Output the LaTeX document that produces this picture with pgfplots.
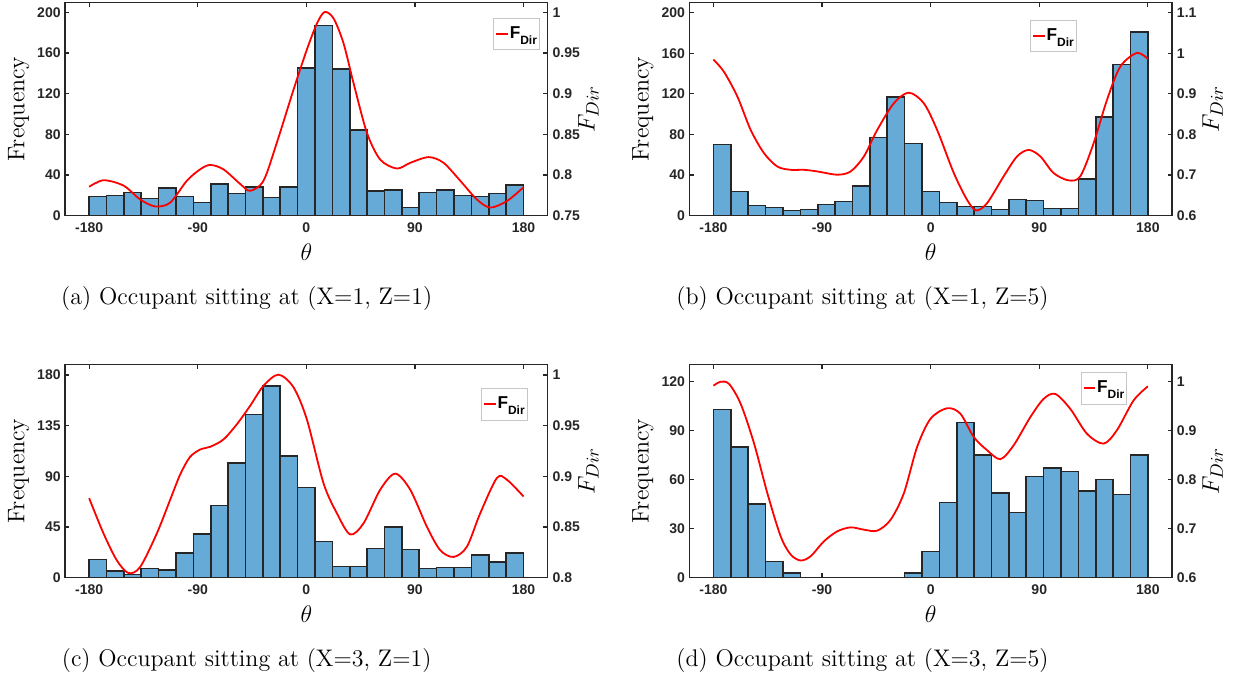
\documentclass[border=0pt]{standalone}
\usepackage{fontspec}
\usepackage{pgfplots}
\pgfplotsset{compat=1.18}
\newfontfamily\arialf{Liberation Sans}
\definecolor{axgray}{RGB}{38,38,38}
\definecolor{barblue}{RGB}{102,170,215}
\newcommand\ticks{\fontsize{7}{8}\selectfont\arialf\bfseries}
\newcommand\fdir{F\raisebox{-2.8pt}{\fontsize{6}{7}\selectfont Dir}}
\newcommand\capfont{\fontsize{12}{14}\selectfont}

\pgfplotsset{
  frame/.style={scale only axis, width=241.35pt, height=106.7pt,
    xmin=-200, xmax=200, ymin=0,
    axis line style={-, draw=axgray, line width=0.6pt},
    tick style={draw=axgray, line width=0.6pt},
    major tick length=2.2pt, tick align=inside,
    every tick label/.append style={font=\ticks, text=axgray, inner sep=1pt}},
  hist/.style={frame, xtick={-180,-90,0,90,180}, xticklabels={-180,-90,0,90,180},
    ytick pos=left,
    xticklabel style={yshift=-2.5pt}, yticklabel style={xshift=-1pt},
    xlabel={$\theta$}, ylabel={Frequency},
    every axis x label/.style={at={(axis description cs:0.5,-0.169)}, anchor=center,
      font=\fontsize{12}{14}\selectfont},
    every axis y label/.style={at={(axis description cs:-0.096,0.5)}, rotate=90,
      anchor=center, font=\fontsize{12}{14}\selectfont}},
  dirax/.style={frame, axis x line=none, axis y line*=right, tick align=inside,
    yticklabel style={xshift=1.3pt}, ylabel={$F_{Dir}$},
    every axis y label/.style={at={(axis description cs:1.0843,0.5)}, rotate=90,
      anchor=center, font=\fontsize{13}{15}\selectfont},
    legend image code/.code={\draw[red, line width=0.9pt] (0pt,0pt) -- (5.8pt,0pt);},
    legend style={draw=gray!45, line width=0.4pt, fill=white, inner xsep=0.8pt,
      inner ysep=3.6pt, font=\fontsize{8.6}{10}\selectfont\arialf\bfseries,
      anchor=north east, nodes={inner sep=0.5pt}}},
  barstyle/.style={ybar interval, fill=barblue, draw=axgray, line width=0.8pt},
  curvestyle/.style={red, line width=0.9pt, smooth, mark=none},
}

\begin{document}
\begin{tikzpicture}
\useasboundingbox (0pt,0pt) rectangle (616.5pt,-339.5pt);

% ---------------- (a) X=1, Z=1 ----------------
\begin{axis}[hist, at={(32.5pt,-107.85pt)}, ymax=209.8,
  ytick={0,40,80,120,160,200}, yticklabels={0,40,80,120,160,200}]
\addplot[barstyle] table {
-180 19
-165.6 20
-151.2 23
-136.8 17
-122.4 27
-108 19
-93.6 13
-79.2 31
-64.8 22
-50.4 28
-36 18
-21.6 28
-7.2 145
7.2 187
21.6 144
36 84
50.4 24
64.8 25
79.2 8
93.6 23
108 25
122.4 20
136.8 19
151.2 22
165.6 30
180 30
};
\end{axis}
\begin{axis}[dirax, at={(32.5pt,-107.85pt)}, ymin=0.75, ymax=1.0123,
  ytick={0.75,0.8,0.85,0.9,0.95,1}, yticklabels={0.75,0.8,0.85,0.9,0.95,1},
  legend style={at={(axis description cs:0.984,0.926)}}]
\addplot[curvestyle] table {
-180 0.7855
-168.1 0.7936
-151.5 0.787
-137.7 0.770
-125.3 0.7614
-112.9 0.766
-99.0 0.793
-88.0 0.807
-79.7 0.8124
-68.7 0.807
-54.8 0.789
-46.6 0.7806
-35.5 0.793
-24.4 0.840
-10.6 0.905
0.4 0.954
8.7 0.986
15.1 1.0003
22.5 0.9926
30.8 0.962
39.1 0.913
50.2 0.852
61.2 0.819
75.0 0.808
86.1 0.815
101.3 0.822
113.7 0.815
127.5 0.793
141.3 0.770
152.4 0.760
166.2 0.768
180 0.785
};
\legend{\fdir}
\end{axis}

% ---------------- (b) X=1, Z=5 ----------------
\begin{axis}[hist, at={(344.65pt,-107.85pt)}, ymax=210.2,
  ytick={0,40,80,120,160,200}, yticklabels={0,40,80,120,160,200}]
\addplot[barstyle] table {
-180 70
-165.6 24
-151.2 10
-136.8 8
-122.4 5
-108 6
-93.6 11
-79.2 14
-64.8 29
-50.4 77
-36 117
-21.6 71
-7.2 24
7.2 13
21.6 9
36 9
50.4 6
64.8 16
79.2 15
93.6 7
108 7
122.4 36
136.8 97
151.2 149
165.6 181
180 181
};
\end{axis}
\begin{axis}[dirax, at={(344.65pt,-107.85pt)}, ymin=0.6, ymax=1.1256,
  ytick={0.6,0.7,0.8,0.9,1,1.1}, yticklabels={0.6,0.7,0.8,0.9,1,1.1},
  legend style={at={(axis description cs:0.803,0.917)}}]
\addplot[curvestyle] table {
-180 0.9846
-171.2 0.954
-160.1 0.893
-149.1 0.811
-138.1 0.754
-127.0 0.721
-116.0 0.713
-105.0 0.713
-93.9 0.709
-77.4 0.701
-66.3 0.709
-55.3 0.746
-44.3 0.811
-30.5 0.877
-18.1 0.903
-5.7 0.877
5.4 0.811
19.2 0.705
30.2 0.639
37.7 0.613
46.8 0.631
60.5 0.697
71.6 0.746
81.2 0.762
90.9 0.746
101.9 0.705
114.3 0.687
124.0 0.697
135.0 0.778
146.1 0.885
157.1 0.967
170.9 1.001
180 0.986
};
\legend{\fdir}
\end{axis}

% ---------------- (c) X=3, Z=1 ----------------
\begin{axis}[hist, at={(32.5pt,-288.85pt)}, ymax=189.5,
  ytick={0,45,90,135,180}, yticklabels={0,45,90,135,180}]
\addplot[barstyle] table {
-180 16
-165.6 6
-151.2 3
-136.8 8
-122.4 7
-108 22
-93.6 39
-79.2 64
-64.8 102
-50.4 145
-36 170
-21.6 108
-7.2 80
7.2 32
21.6 10
36 10
50.4 26
64.8 45
79.2 25
93.6 8
108 9
122.4 9
136.8 20
151.2 14
165.6 22
180 22
};
\end{axis}
\begin{axis}[dirax, at={(32.5pt,-288.85pt)}, ymin=0.8, ymax=1.0106,
  ytick={0.8,0.85,0.9,0.95,1}, yticklabels={0.8,0.85,0.9,0.95,1},
  legend style={at={(axis description cs:0.9586,0.8875)}}]
\addplot[curvestyle] table {
-180 0.8785
-168.1 0.8437
-157.1 0.8172
-147.4 0.8046
-137.7 0.8106
-123.9 0.8437
-112.9 0.8768
-104.5 0.9020
-96.5 0.9190
-88.0 0.9265
-79.7 0.9292
-68.7 0.9364
-57.6 0.9514
-46.6 0.9696
-35.5 0.9894
-23.1 1.0004
-10.6 0.9878
0.4 0.9563
14.2 0.8933
25.3 0.8636
36.3 0.8427
47.4 0.8537
61.2 0.8868
73.6 0.9027
86.1 0.8868
99.9 0.8503
110.9 0.8272
122.0 0.8205
133.0 0.8305
144.1 0.8636
157.9 0.8984
166.2 0.8967
180 0.8801
};
\legend{\fdir}
\end{axis}

% ---------------- (d) X=3, Z=5 ----------------
\begin{axis}[hist, at={(344.65pt,-288.85pt)}, ymax=130.6,
  ytick={0,30,60,90,120}, yticklabels={0,30,60,90,120}]
% bins from -180 to -108
\addplot[barstyle] table {
-180 103
-165.6 80
-151.2 45
-136.8 10
-122.4 3
-108 3
};
% bins from -21.6 to 180 (the bins in between are empty)
\addplot[barstyle] table {
-21.6 3
-7.2 16
7.2 46
21.6 95
36 75
50.4 52
64.8 40
79.2 62
93.6 67
108 65
122.4 53
136.8 60
151.2 51
165.6 75
180 75
};
\end{axis}
\begin{axis}[dirax, at={(344.65pt,-288.85pt)}, ymin=0.6, ymax=1.0355,
  ytick={0.6,0.7,0.8,0.9,1}, yticklabels={0.6,0.7,0.8,0.9,1},
  legend style={at={(axis description cs:0.9074,0.9625)}}]
\addplot[curvestyle] table {
-180 0.9919
-173.9 1.0
-167.0 0.9953
-157.4 0.9547
-146.3 0.8736
-135.3 0.7723
-124.3 0.6845
-116.0 0.6473
-107.7 0.6351
-99.4 0.6439
-88.4 0.6743
-77.4 0.6946
-66.3 0.7027
-55.3 0.698
-44.3 0.696
-33.2 0.7182
-22.2 0.7723
-11.2 0.8669
-0.1 0.9243
13.7 0.9459
24.7 0.9345
35.7 0.8872
46.8 0.8601
57.8 0.8419
68.8 0.8703
82.6 0.9277
93.6 0.9649
103.3 0.975
115.7 0.9446
129.5 0.8939
143.3 0.8736
154.3 0.9007
168.1 0.9615
180 0.9905
};
\legend{\fdir}
\end{axis}

% sub-captions
\node[anchor=base, font=\capfont] at (123.35pt,-152.3pt) {(a) Occupant sitting at (X=1, Z=1)};
\node[anchor=base, font=\capfont] at (431.25pt,-152.3pt) {(b) Occupant sitting at (X=1, Z=5)};
\node[anchor=base, font=\capfont] at (123.35pt,-333.3pt) {(c) Occupant sitting at (X=3, Z=1)};
\node[anchor=base, font=\capfont] at (431.25pt,-333.3pt) {(d) Occupant sitting at (X=3, Z=5)};
\end{tikzpicture}
\end{document}
